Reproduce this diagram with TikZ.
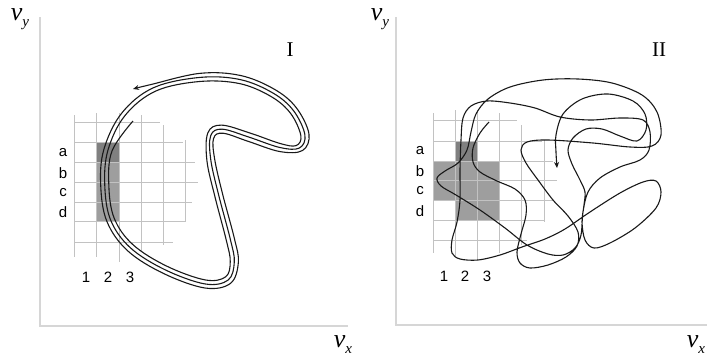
\documentclass[tikz,border=0pt]{standalone}
\usepackage{fontspec}
\setmainfont{Liberation Serif}
\newfontfamily\arialf{Liberation Sans}
\usetikzlibrary{arrows.meta}
\begin{document}
\begin{tikzpicture}[x=1pt,y=-1pt,
  axisline/.style={draw=black!16,line width=1.3pt},
  gridline/.style={draw=black!24,line width=0.8pt},
  traj/.style={draw=black!90,line width=1.1pt},
  cell/.style={fill=black!38},
  celldark/.style={fill=black!50},
  lab/.style={font=\arialf\fontsize{15}{15}\selectfont,inner sep=0pt},
  varlab/.style={font=\fontsize{26}{26}\selectfont\itshape,inner sep=0pt},
  panel/.style={font=\fontsize{21}{21}\selectfont,inner sep=0pt}]
\useasboundingbox (0,0) rectangle (715,356);

% ================= Panel I =================
\draw[axisline] (40,17) -- (40,326) -- (348,326);
\fill[cell] (96.7,162.5) rectangle (119,221.7);
\fill[celldark] (96.7,142.7) rectangle (119,162.5);
\foreach \yy/\xe in {122/160,142.7/183,162.5/195,182.3/198,202.3/192,221.7/185,242/173}
  \draw[gridline] (74,\yy) -- (\xe,\yy);
\foreach \xx/\ya/\yb in {74/115/257,96.7/113/257,119/113/262,141.7/115/252,163.5/125/245,185.5/140/222}
  \draw[gridline] (\xx,\ya) -- (\xx,\yb);
\foreach \t/\yy in {a/153,b/173,c/193,d/212}
  \node[lab] (lI\t) at (63,\yy) {\t};
\foreach \t/\xx in {1/86,2/108,3/130}
  \node[lab] (nI\t) at (\xx,277) {\t};
\node[varlab] (vyI) at (20,19) {v\raisebox{-6pt}{\fontsize{15}{15}\selectfont y}};
\node[varlab] (vxI) at (343,345) {v\raisebox{-6pt}{\fontsize{15}{15}\selectfont x}};
\node[panel] (tI) at (290,50) {I};

\def\baseI{107/150/-1/-0.2, 104/185/-1/0, 110/220/-0.9/0.4, 130/248/-0.6/0.8, 165/270/-0.3/0.95, 205/284/0/1, 228/280/0.6/0.8, 234/262/1/0.1, 230/240/1/-0.2, 218/195/0.95/-0.3, 210/160/0.95/-0.2, 210/135/0.7/0.7, 222/128/0.2/1, 250/136/-0.3/1, 280/146/0/1, 298/147/0.8/0.6, 303/135/1/-0.2, 292/112/0.7/-0.7, 272/95/0.4/-0.9, 240/82/0.1/-1, 200/80/0/-1, 155/90/-0.6/-0.8, 124/115/-0.8/-0.6}
\foreach \k in {0,1,2}{
  \foreach \px/\py/\nx/\ny [count=\i] in \baseI {
    \pgfmathtruncatemacro\j{\k*23+\i}
    \pgfmathsetmacro\d{-5+12*(\j-1)/68}
    \pgfmathsetmacro\qx{\px+\d*\nx}
    \pgfmathsetmacro\qy{\py+\d*\ny}
    \coordinate (sI\j) at (\qx,\qy);
  }
}
\def\pathI{(133,121)}
\foreach \j in {1,...,68}{\xdef\pathI{\pathI (sI\j)}}
\xdef\pathI{\pathI (133,89)}
\edef\drawI{\noexpand\draw[traj,-{Stealth[length=6pt,width=5pt]}] plot[smooth,tension=0.6] coordinates {\pathI};}
\drawI

% ================= Panel II =================
\draw[axisline] (396,17) -- (396,325) -- (707,325);
\fill[cell] (433,161) rectangle (499,200.3);
\fill[cell] (455.5,200.3) rectangle (499,220);
\fill[celldark] (455.5,141.3) rectangle (477,161);
\foreach \yy/\xe in {120.5/517,141.3/542,161/553,180.8/557,200.3/553,220/545,240/527}
  \draw[gridline] (433,\yy) -- (\xe,\yy);
\foreach \xx/\ya/\yb in {433/113/253,455.5/110/257,477/110/260,499/113/253,521.7/125/245,544/140/222}
  \draw[gridline] (\xx,\ya) -- (\xx,\yb);
\foreach \t/\yy in {a/151,b/171,c/191,d/211}
  \node[lab] (lII\t) at (420,\yy) {\t};
\foreach \t/\xx in {1/444,2/465,3/487}
  \node[lab] (nII\t) at (\xx,276) {\t};
\node[varlab] (vyII) at (380,19) {v\raisebox{-6pt}{\fontsize{15}{15}\selectfont y}};
\node[varlab] (vxII) at (696,345) {v\raisebox{-6pt}{\fontsize{15}{15}\selectfont x}};
\node[panel] (tII) at (659,50) {II};

\draw[traj,-{Stealth[length=6pt,width=5pt]}] plot[smooth,tension=0.55] coordinates {
(489,122) (480,133) (473,148) (473,162) (480,172) (497,181) (515,189) (525,200) (526,215) (521,234) (517,252) (520,263) (530,268) (548,265) (566,257) (577,246) (578,232) (568,216) (553,200) (538,180) (526,163) (521,150) (527,142) (548,140) (593,143) (630,147) (652,146) (661,135) (657,112) (642,95) (612,83) (578,79) (543,80) (510,87) (488,99) (476,114) (471,132) (467,150) (458,163) (445,171) (437,178) (441,186) (456,195) (480,210) (505,228) (527,245) (548,254) (563,255) (575,248) (581,235) (583,212) (588,192) (600,178) (620,167) (640,160) (649,150) (650,132) (643,120) (620,118) (590,120) (560,117) (535,108) (510,103) (487,101) (471,106) (463,118) (461,140) (460,170) (460,200) (457,222) (452,240) (452,253) (460,259) (478,260) (500,255) (522,247) (545,239) (565,229) (590,212) (620,193) (643,182) (656,181) (661,192) (656,208) (635,228) (610,243) (594,248) (585,240) (582,222) (584,205) (585,192) (580,180) (572,164) (568,150) (573,138) (586,129) (602,129) (620,136) (637,141) (646,130) (645,114) (633,101) (608,94) (582,99) (563,114) (556,135) (556,152) (557,168)};
\end{tikzpicture}
\end{document}
